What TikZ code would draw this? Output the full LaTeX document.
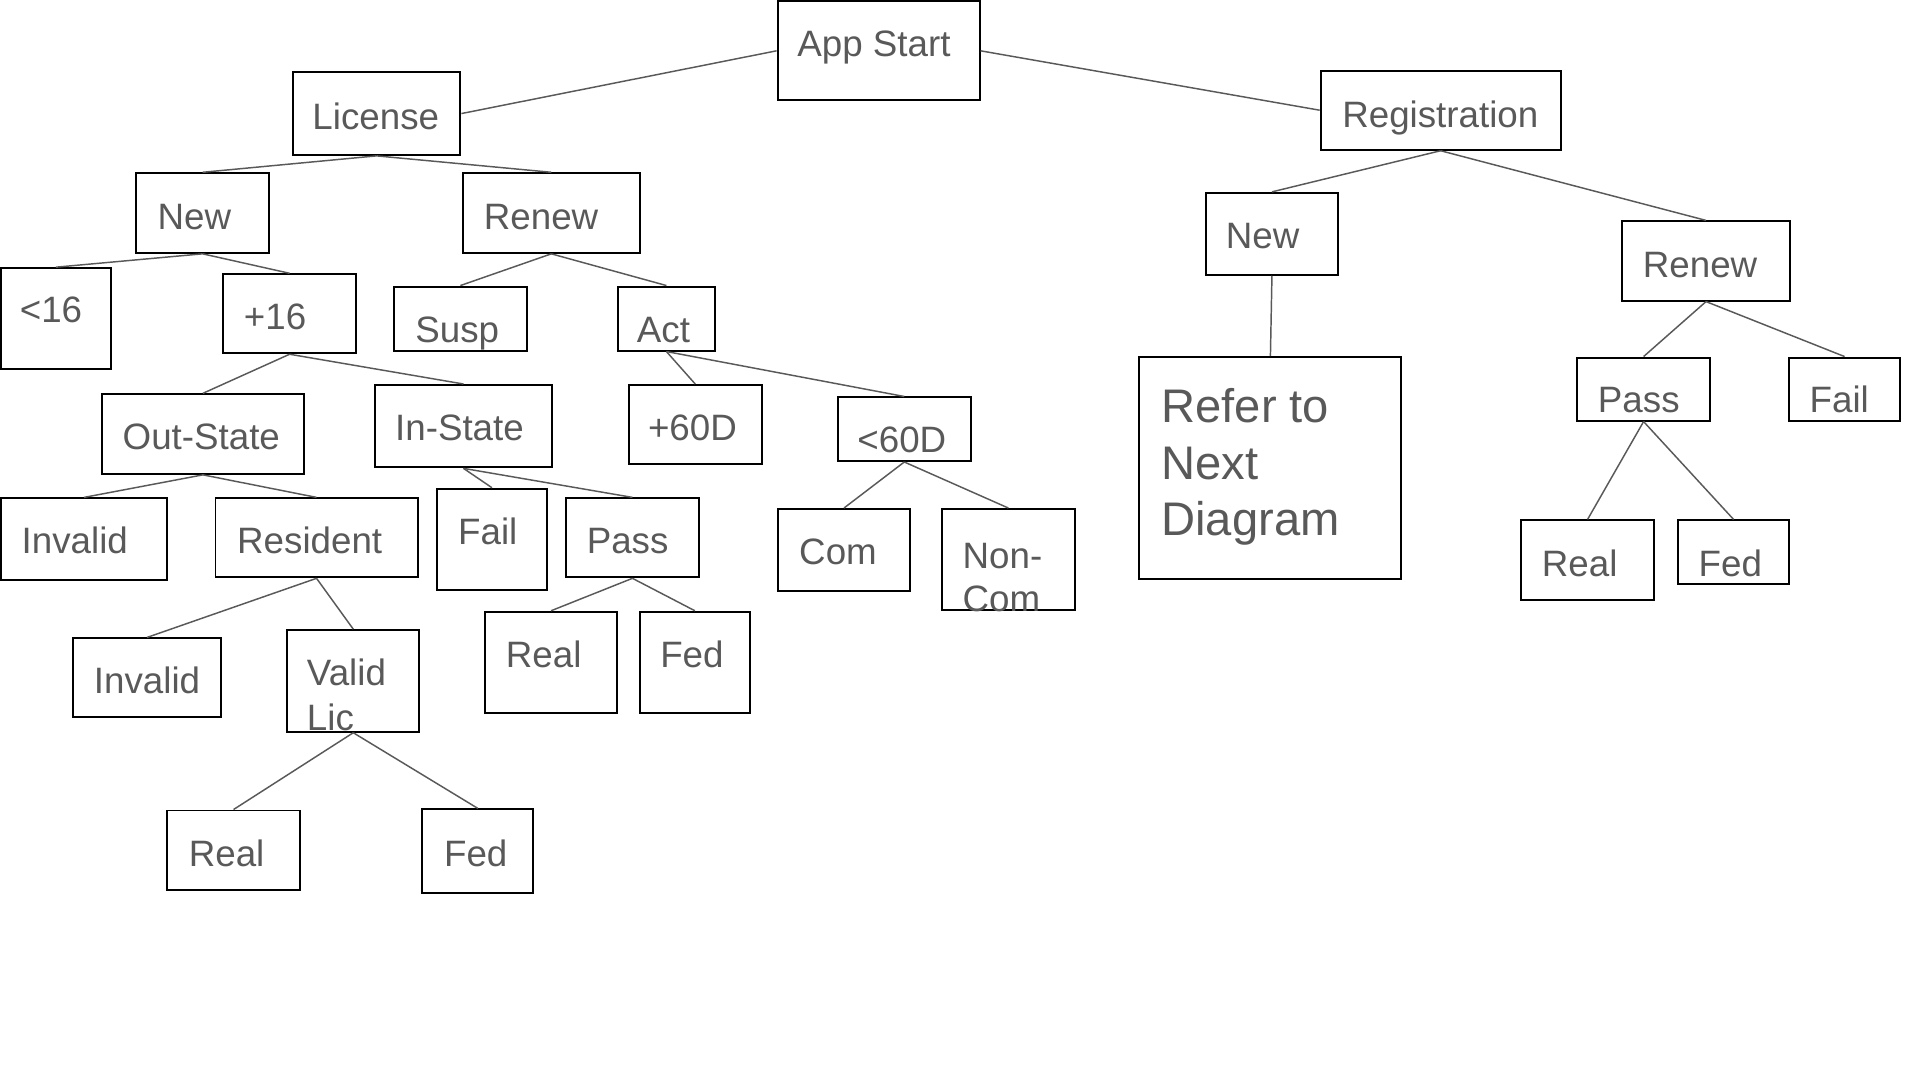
\documentclass[tikz,border=0pt]{standalone}
\usepackage{fontspec}
\setmainfont{Liberation Sans}
\usetikzlibrary{fit}
\definecolor{txtgray}{HTML}{595959}
\definecolor{linegray}{HTML}{595959}
\newcommand\mybox[5]{\node[box, fit={(#2,#3) (#4,#5)}] (#1) {};}
\newcommand\mytext[4]{\node[lbl] (#1) at (#2,#3) {#4};}
\begin{document}
\begin{tikzpicture}[x=1pt,y=-1pt,
  box/.style={draw=black, line width=1.6pt, inner sep=0pt},
  lbl/.style={text=txtgray, font=\fontsize{30}{36}\selectfont, anchor=base west, inner sep=0pt, yshift=-1.5pt},
  big/.style={text=txtgray, font=\fontsize{38.5}{46}\selectfont, anchor=base west, inner sep=0pt, yshift=-1pt},
  conn/.style={draw=linegray, line width=1.2pt}]
\useasboundingbox (0,0) rectangle (1568,882);

% boxes
\mybox{app}{635}{1}{800}{82}
\mybox{lic}{239}{59}{376}{126.5}
\mybox{newl}{111}{141.5}{220}{206.5}
\mybox{renl}{378}{141.5}{522.5}{206.5}
\mybox{lt16}{0.8}{219}{90.5}{301.5}
\mybox{p16}{182.5}{224}{290.5}{288.5}
\mybox{susp}{322}{234}{430}{286.3}
\mybox{act}{504.5}{234}{584}{286.3}
\mybox{out}{83.5}{322}{248}{387}
\mybox{ins}{306.5}{314.4}{450.5}{381.7}
\mybox{p60}{513.5}{314.4}{622}{379}
\mybox{l60}{684}{324.6}{793}{376.5}
\mybox{inv1}{0.8}{407}{136.5}{473.7}
\mybox{res}{176}{407}{341}{471.5}
\mybox{fail1}{356.5}{399.1}{447}{481.6}
\mybox{pass1}{462.5}{407}{570.5}{471.5}
\mybox{com}{635}{415.7}{743.5}{483}
\mybox{noncom}{769}{415.7}{878}{498.5}
\mybox{inv2}{59.5}{521.4}{180.5}{585.9}
\mybox{valid}{234.5}{514.6}{342.5}{597.6}
\mybox{real1}{396}{499.6}{504}{582.6}
\mybox{fed1}{522.5}{499.6}{612.5}{582.6}
\mybox{real2}{136.5}{661.9}{245}{727}
\mybox{fed2}{345}{661}{435.5}{729}
\mybox{reg}{1078.5}{57.7}{1274.5}{122.3}
\mybox{newr}{984.5}{157.5}{1093}{224.4}
\mybox{renr}{1325}{180.8}{1461.5}{245.5}
\mybox{refer}{930.5}{291.7}{1144.5}{472.9}
\mybox{passr}{1288}{292}{1396.5}{343.5}
\mybox{failr}{1461}{292}{1551.8}{343.5}
\mybox{realr}{1242.5}{425}{1350.5}{489.7}
\mybox{fedr}{1370.5}{425}{1461}{476.7}

% texts
\mytext{tapp}{651}{44.4}{App Start}
\mytext{tlic}{255}{104}{License}
\mytext{tnewl}{128.5}{186}{New}
\mytext{trenl}{395}{186}{Renew}
\mytext{tlt16}{16}{262}{<16}
\mytext{tp16}{199}{268}{+16}
\mytext{tsusp}{339}{278.4}{Susp}
\mytext{tact}{520}{278.4}{Act}
\mytext{tout}{100}{365.6}{Out-State}
\mytext{tins}{322.5}{358.3}{In-State}
\mytext{tp60}{529}{358.3}{+60D}
\mytext{tl60}{700}{368.4}{<60D}
\mytext{tinv1}{17.5}{450.8}{Invalid}
\mytext{tres}{193.5}{450.8}{Resident}
\mytext{tfail1}{374}{443.2}{Fail}
\mytext{tpass1}{479}{450.8}{Pass}
\mytext{tcom}{652.5}{459.6}{Com}
\mytext{tnoncoma}{786}{463}{Non-}
\mytext{tnoncomb}{786}{498}{Com}
\mytext{tinv2}{76.5}{565}{Invalid}
\mytext{tvalida}{250.5}{558}{Valid}
\mytext{tvalidb}{250.5}{595}{Lic}
\mytext{treal1}{413}{544}{Real}
\mytext{tfed1}{539}{544}{Fed}
\mytext{treal2}{154}{706.5}{Real}
\mytext{tfed2}{362.5}{706}{Fed}
\mytext{treg}{1096}{102.7}{Registration}
\mytext{tnewr}{1001}{201.7}{New}
\mytext{trenr}{1341.5}{225}{Renew}
\node[big] (trefa) at (948.3,344.2) {Refer to};
\node[big] (trefb) at (948.3,390.4) {Next};
\node[big] (trefc) at (948.3,436.7) {Diagram};
\mytext{tpassr}{1304.8}{335.5}{Pass}
\mytext{tfailr}{1477.7}{335.5}{Fail}
\mytext{trealr}{1259}{469.3}{Real}
\mytext{tfedr}{1387}{469.3}{Fed}

% connectors
\draw[conn] (app.west) -- (lic.east);
\draw[conn] (app.east) -- (reg.west);
\draw[conn] (lic.south) -- (newl.north);
\draw[conn] (lic.south) -- (renl.north);
\draw[conn] (newl.south) -- (lt16.north);
\draw[conn] (newl.south) -- (p16.north);
\draw[conn] (renl.south) -- (susp.north);
\draw[conn] (renl.south) -- (act.north);
\draw[conn] (p16.south) -- (out.north);
\draw[conn] (p16.south) -- (ins.north);
\draw[conn] (act.south) -- (p60.north);
\draw[conn] (act.south) -- (l60.north);
\draw[conn] (out.south) -- (inv1.north);
\draw[conn] (out.south) -- (res.north);
\draw[conn] (ins.south) -- (fail1.north);
\draw[conn] (ins.south) -- (pass1.north);
\draw[conn] (l60.south) -- (com.north);
\draw[conn] (l60.south) -- (noncom.north);
\draw[conn] (res.south) -- (inv2.north);
\draw[conn] (res.south) -- (valid.north);
\draw[conn] (pass1.south) -- (real1.north);
\draw[conn] (pass1.south) -- (fed1.north);
\draw[conn] (valid.south) -- (real2.north);
\draw[conn] (valid.south) -- (fed2.north);
\draw[conn] (reg.south) -- (newr.north);
\draw[conn] (reg.south) -- (renr.north);
\draw[conn] (newr.south) -- (refer.north);
\draw[conn] (renr.south) -- (passr.north);
\draw[conn] (renr.south) -- (failr.north);
\draw[conn] (passr.south) -- (realr.north);
\draw[conn] (passr.south) -- (fedr.north);
\end{tikzpicture}
\end{document}
